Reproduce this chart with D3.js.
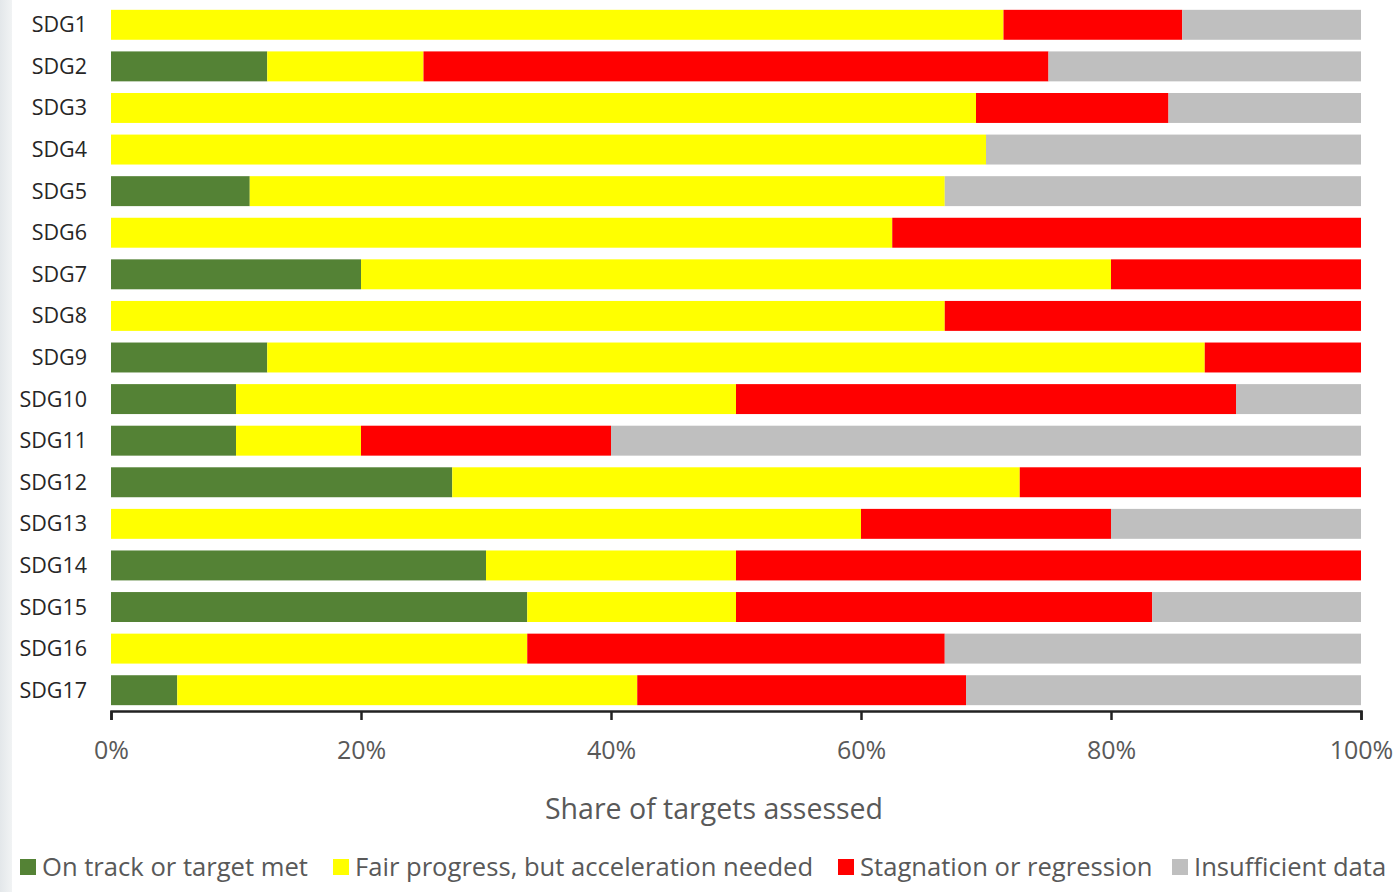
<!DOCTYPE html>
<html>
<head>
<meta charset="utf-8">
<script src="https://cdn.jsdelivr.net/npm/d3@7"></script>
<style>
  body { margin: 0; background: #fff; }
  text { font-family: "Open Sans", Lato, sans-serif; }
</style>
</head>
<body>
<div class="chart"></div>
<script>
// data (percent of targets assessed)
var goals = ["SDG1","SDG2","SDG3","SDG4","SDG5","SDG6","SDG7","SDG8","SDG9",
             "SDG10","SDG11","SDG12","SDG13","SDG14","SDG15","SDG16","SDG17"];
var onTrack      = [0, 12.5, 0, 0, 11.1, 0, 20, 0, 12.5, 10, 10, 27.3, 0, 30, 33.3, 0, 5.3];
var fairProgress = [71.4, 12.5, 69.2, 70, 55.6, 62.5, 60, 66.7, 75, 40, 10, 45.4, 60, 20, 16.7, 33.3, 36.8];
var stagnation   = [14.3, 50, 15.4, 0, 0, 37.5, 20, 33.3, 12.5, 40, 20, 27.3, 20, 50, 33.3, 33.4, 26.3];
var insufficient = [14.3, 25, 15.4, 30, 33.3, 0, 0, 0, 0, 10, 60, 0, 20, 0, 16.7, 33.3, 31.6];

var seriesNames = ["On track or target met", "Fair progress, but acceleration needed",
                   "Stagnation or regression", "Insufficient data"];
var seriesKeys = ["onTrack", "fair", "stag", "insuff"];
var colors = ["#548235", "#ffff00", "#ff0000", "#bfbfbf"];
var ticks = [0, 20, 40, 60, 80, 100];

var svgWidth = 1397;
var svgHeight = 892;
var margin = { top: 4, right: 36, bottom: 181, left: 111 };
var width = svgWidth - margin.left - margin.right;
var height = svgHeight - margin.top - margin.bottom;

var svg = d3.select(".chart")
  .append("svg")
  .attr("width", svgWidth)
  .attr("height", svgHeight);

// faint strip on the left edge
var grad = svg.append("defs").append("linearGradient").attr("id", "edge");
grad.append("stop").attr("offset", "0%").attr("stop-color", "#e3e7ea");
grad.append("stop").attr("offset", "100%").attr("stop-color", "#f1f3f4");
svg.append("rect").attr("x", 0).attr("y", 0).attr("width", 12).attr("height", svgHeight)
  .attr("fill", "url(#edge)");

var chartGroup = svg.append("g")
  .attr("transform", `translate(${margin.left}, ${margin.top})`);

var rows = goals.map(function(g, i) {
  return { goal: g, onTrack: onTrack[i], fair: fairProgress[i], stag: stagnation[i], insuff: insufficient[i] };
});

var stacked = d3.stack().keys(seriesKeys)(rows);

var x = d3.scaleLinear().domain([0, 100]).range([0, width]);
var y = d3.scaleBand().domain(goals).range([0, height]).paddingInner(0.28).paddingOuter(0.14);

chartGroup.selectAll("g.layer")
  .data(stacked)
  .enter()
  .append("g")
  .attr("class", "layer")
  .attr("fill", (d, i) => colors[i])
  .selectAll("rect")
  .data(d => d)
  .enter()
  .append("rect")
  .attr("x", d => x(d[0]))
  .attr("width", d => Math.max(0, x(d[1]) - x(d[0])))
  .attr("y", d => y(d.data.goal))
  .attr("height", y.bandwidth());

// category labels
chartGroup.selectAll("text.cat")
  .data(goals)
  .enter()
  .append("text")
  .attr("class", "cat")
  .attr("x", -24)
  .attr("y", d => y(d) + y.bandwidth() / 2)
  .attr("dy", "0.35em")
  .attr("text-anchor", "end")
  .attr("font-size", 21.5)
  .attr("fill", "#262626")
  .text(d => d);

// bottom axis
var bottomAxis = d3.axisBottom(x).tickValues(ticks).tickFormat(d => d + "%").tickSize(9).tickSizeOuter(9);
var axisG = chartGroup.append("g")
  .attr("transform", `translate(0, ${height})`)
  .call(bottomAxis);
axisG.select(".domain").attr("stroke", "#222").attr("stroke-width", 2.5);
axisG.selectAll(".tick line").attr("stroke", "#222").attr("stroke-width", 2.5);
axisG.selectAll(".tick text")
  .attr("y", 30)
  .attr("font-size", 25)
  .attr("fill", "#595959")
  .attr("font-family", "Open Sans, sans-serif");

// axis title
chartGroup.append("text")
  .attr("x", 603)
  .attr("y", height + 108)
  .attr("text-anchor", "middle")
  .attr("font-size", 28.5)
  .attr("fill", "#595959")
  .text("Share of targets assessed");

// legend
var legendX = [20, 333, 838, 1172];
var legend = svg.selectAll("g.legend")
  .data(seriesNames)
  .enter()
  .append("g")
  .attr("class", "legend")
  .attr("transform", (d, i) => `translate(${legendX[i]}, 867)`);
legend.append("rect")
  .attr("x", 0).attr("y", -8).attr("width", 16).attr("height", 16)
  .attr("fill", (d, i) => colors[i]);
legend.append("text")
  .attr("x", 22)
  .attr("dy", "0.35em")
  .attr("font-size", 25.6)
  .attr("fill", "#595959")
  .text(d => d);
</script>
</body>
</html>
